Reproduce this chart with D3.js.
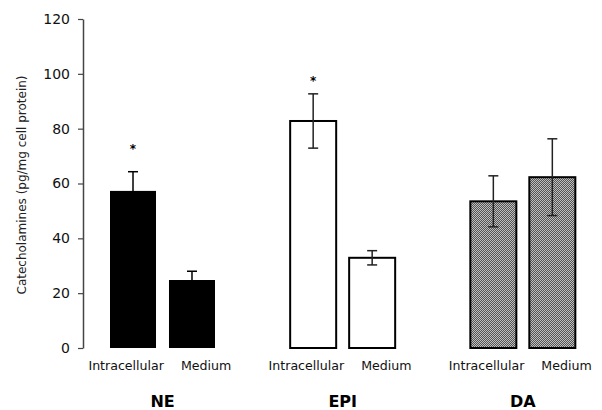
<!DOCTYPE html>
<html>
<head>
<meta charset="utf-8">
<script src="https://cdn.jsdelivr.net/npm/d3@7"></script>
<style>
  body { margin: 0; background: #fff; }
  svg { font-family: "DejaVu Sans", sans-serif; }
</style>
</head>
<body>
<svg width="602" height="410"></svg>
<script>
const groups = ["NE", "EPI", "DA"];
const sites = ["Intracellular", "Medium"];
const means = [[57.3, 24.8], [82.8, 32.9], [53.5, 62.3]];
const errs = [[7.0, 3.2], [9.9, 2.6], [9.3, 14.0]];
const stars = [[73.3, null], [98.1, null], [null, null]]; // asterisk position (value units)
const yTicks = [0, 20, 40, 60, 80, 100, 120];

const svg = d3.select("svg");

// checker pattern for DA
const defs = svg.append("defs");
const pat = defs.append("pattern").attr("id", "dots")
  .attr("width", 2).attr("height", 2).attr("patternUnits", "userSpaceOnUse");
pat.append("rect").attr("width", 2).attr("height", 2).attr("fill", "#d8d8d8");
pat.append("rect").attr("width", 1).attr("height", 1).attr("fill", "#3a3a3a");
pat.append("rect").attr("x", 1).attr("y", 1).attr("width", 1).attr("height", 1).attr("fill", "#3a3a3a");

const fills = ["#000", "#fff", "url(#dots)"];
const errColor = ["#000", "#222", "#222"];
// label placement relative to bar centre (Excel-like spread)
const labelPos = [{ dx: 31, anchor: "end" }, { dx: -11, anchor: "start" }];

const y = d3.scaleLinear().domain([0, 120]).range([348, 19]);
const x0 = d3.scaleBand().domain(groups).range([72.5, 613]);
const x1 = d3.scaleBand().domain(sites).range([37.5, 142.5]).paddingInner(0.22).paddingOuter(0);

// y axis
const yAxis = svg.append("g").attr("transform", "translate(83,0)")
  .call(d3.axisLeft(y).tickValues(yTicks).tickSize(5).tickSizeOuter(0).tickPadding(8));
yAxis.attr("font-family", "DejaVu Sans, sans-serif").attr("font-size", 14);
yAxis.select(".domain").attr("stroke", "#444").attr("stroke-width", 1.5);
yAxis.selectAll(".tick line").attr("stroke", "#444").attr("stroke-width", 1.2);
yAxis.selectAll(".tick text").attr("fill", "#111");

svg.append("text")
  .attr("transform", "translate(26,185) rotate(-90)")
  .attr("text-anchor", "middle")
  .attr("font-size", "12px")
  .attr("fill", "#222")
  .text("Catecholamines (pg/mg cell protein)");

groups.forEach((g, gi) => {
  const gx = svg.append("g").attr("transform", `translate(${x0(g)},0)`);
  sites.forEach((s, si) => {
    const v = means[gi][si], e = errs[gi][si];
    const bx = x1(s), bw = x1.bandwidth(), cx = bx + bw / 2;
    gx.append("rect")
      .attr("x", bx).attr("y", y(v))
      .attr("width", bw).attr("height", y(0) - y(v))
      .attr("fill", fills[gi])
      .attr("stroke", "#000")
      .attr("stroke-width", gi === 0 ? 0 : 2);

    // error bar
    gx.append("line").attr("x1", cx).attr("x2", cx)
      .attr("y1", y(v - e)).attr("y2", y(v + e))
      .attr("stroke", errColor[gi]).attr("stroke-width", 1.5);
    [v - e, v + e].forEach(t => {
      gx.append("line").attr("x1", cx - 5).attr("x2", cx + 5)
        .attr("y1", y(t)).attr("y2", y(t))
        .attr("stroke", errColor[gi]).attr("stroke-width", 1.5);
    });

    if (stars[gi][si] != null) {
      gx.append("text").attr("x", cx).attr("y", y(stars[gi][si]) + 6)
        .attr("text-anchor", "middle").attr("font-size", "12px").attr("font-weight", "bold")
        .text("*");
    }

    gx.append("text").attr("x", cx + labelPos[si].dx).attr("y", 370)
      .attr("text-anchor", labelPos[si].anchor).attr("font-size", "12.6px").attr("fill", "#111")
      .text(s);
  });

  gx.append("text").attr("x", x0.bandwidth() / 2).attr("y", 407)
    .attr("text-anchor", "middle").attr("font-size", "16px").attr("font-weight", "bold")
    .text(g);
});
</script>
</body>
</html>
